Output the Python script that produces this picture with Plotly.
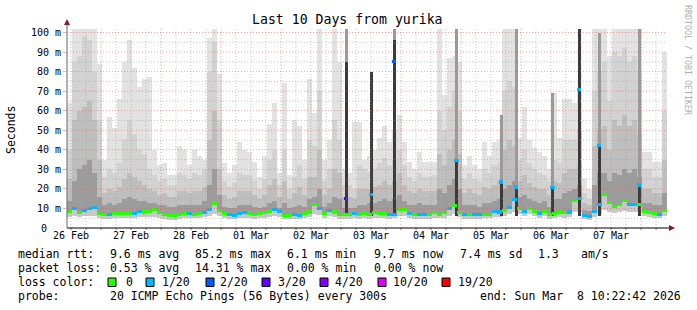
import plotly.graph_objects as go
import pandas as pd

# ---------------- data ----------------
START = pd.Timestamp("2026-02-26 10:22:42")
BIN_H = 2  # hours per bin

med = [8.5, 10, 8, 9, 10, 10.5, 7.5, 6.8, 6.8, 7.2, 7.3, 7.3, 7.3, 7.4, 8.6, 8.2, 8.3, 9.5, 8, 7,
       6.2, 6.2, 6.8, 7.4, 7.6, 7, 7.2, 7.8, 9.3, 12.4, 9, 7.3, 6.8, 6.5, 7.5, 8, 7.7, 6.9, 7.2, 7.8,
       8.5, 9.3, 8.5, 6.5, 6.5, 6.8, 6.5, 7.3, 8.2, 11.9, 10, 7.3, 9, 8.2, 6.8, 6.8, 6.8, 7.3, 6.8, 7.3,
       6.8, 7.8, 7.3, 7.6, 6.8, 7, 9.5, 9.5, 7.3, 6.8, 7, 6.8, 6.8, 7.8, 7, 7.8, 10, 11.5, 7.8, 6.8,
       6.8, 6.8, 7, 7, 7, 8.5, 8.2, 9, 10.5, 14.7, 10, 8.5, 10, 8.5, 7.3, 8.5, 6.8, 7.5, 8.2, 7.8,
       8.2, 14, 15, 6.5, 6.1, 8.5, 12, 17, 13, 11, 12, 14, 12, 12, 12, 8.5, 7.8, 7.3, 7, 9]

loss = [0, 1, 0, 1, 1, 1, 0, 0, 1, 0, 0, 0, 0, 1, 1, 0, 0, 0, 0, 0,
        0, 0, 0, 0, 1, 0, 0, 1, 1, 0, 0, 0, 1, 1, 1, 1, 0, 0, 0, 0,
        0, 1, 1, 0, 0, 1, 1, 0, 0, 0, 1, 0, 1, 0, 0, 0, 0, 1, 0, 0,
        0, 0, 0, 0, 1, 1, 0, 0, 1, 0, 1, 1, 0, 0, 0, 0, 1, 0, 0, 1,
        0, 1, 1, 0, 0, 1, 1, 0, 1, 1, 0, 1, 0, 0, 1, 0, 0, 0, 0, 0,
        1, 0, 1, 1, 1, 1, 1, 0, 0, 0, 0, 0, 1, 1, 0, 0, 0, 0, 1, 0]

ping_min = [5.5, 6, 5.5, 6, 6, 6, 5,
            4.5, 4.5, 5, 5, 5, 5, 5, 5.5, 5.5, 5.5, 5.5, 5, 4.5, 4, 4, 4.5, 5, 5, 5, 5, 5.5,
            6, 7, 6,
            5, 4.5, 4.5, 5, 5, 5, 4.5, 5, 5, 5.5, 6, 5.5, 4.5, 4.5, 4.5, 4.5, 5, 5.5, 7, 6.5,
            5, 6, 5.5, 4.5, 4.5, 4.5, 5, 4.5, 5,
            4.5, 5, 5, 5, 4.5, 5, 6, 6, 5, 4.5, 4.5, 4.5, 4.5, 5, 5, 5, 6, 7, 5.5, 4.5,
            4.5, 4.5, 4.5, 5, 5, 5.5, 5.5, 6, 7, 8,
            7, 6, 7, 6, 5, 6, 4.5, 5, 5.5, 5, 5.5, 8, 8, 4.5, 4, 5.5, 7, 9, 8, 7.5,
            8, 8.5, 8, 8, 8, 6, 5.5, 5, 5, 6]

s1 = [14, 24, 30, 32, 35, 28, 16,
      12, 13, 12, 13, 15, 16, 15, 14, 14, 13, 13, 12, 12, 11, 11, 12, 12, 12, 12, 12, 14,
      22, 30, 17,
      11, 10, 10, 12, 12, 12, 11, 10, 11, 13, 14, 10, 13, 10, 11, 12, 11, 15, 16, 20,
      11, 13, 16, 15, 10, 10, 10, 12, 12,
      13, 13, 14, 15, 14, 15, 17, 14, 12, 12, 13, 12, 12, 12, 20, 18, 22, 25, 20, 12,
      12, 12, 11, 13, 13, 14, 15, 20, 22, 24,
      16, 17, 15, 14, 13, 14, 11, 15, 15, 18, 19, 20, 22, 9, 8.5, 22, 28, 28, 24, 28,
      27, 30, 28, 30, 26, 13, 13, 12, 12, 18]

s2 = [25, 55, 60, 62, 65, 55, 35,
      18, 20, 19, 21, 25, 28, 26, 24, 22, 20, 19, 17, 18, 16, 16, 19, 19, 18, 19, 19, 21,
      45, 60, 30,
      17, 15, 16, 19, 19, 19, 17, 15, 17, 22, 25, 16, 24, 15, 18, 21, 17, 26, 26, 40,
      17, 20, 30, 28, 16, 16, 15, 20, 20,
      20, 21, 22, 24, 22, 24, 28, 22, 19, 18, 20, 19, 19, 19, 38, 32, 40, 45, 38, 18,
      20, 18, 17, 21, 20, 22, 24, 40, 45, 42,
      24, 27, 23, 21, 20, 20, 17, 24, 23, 28, 30, 30, 32, 13, 12, 42, 50, 52, 40, 55,
      52, 58, 52, 55, 48, 20, 20, 18, 18, 35]

s3 = [40, 85, 88, 98, 96, 80, 55,
      26, 30, 28, 33, 45, 55, 48, 40, 38, 30, 27, 24, 25, 22, 22, 28, 27, 25, 28, 27, 30,
      80, 95, 55,
      24, 21, 23, 28, 27, 27, 24, 20, 25, 35, 40, 22, 40, 20, 26, 32, 25, 45, 42, 70,
      24, 30, 55, 45, 22, 22, 20, 32, 30,
      28, 30, 33, 36, 32, 35, 40, 32, 26, 24, 28, 26, 26, 27, 60, 50, 62, 70, 60, 25,
      28, 25, 24, 30, 28, 32, 34, 70, 75, 72,
      35, 40, 33, 30, 28, 27, 24, 35, 33, 45, 45, 45, 50, 18, 15, 70, 80, 85, 65, 90,
      88, 92, 85, 88, 80, 30, 30, 26, 26, 60]

s_max = [64, 102, 102, 102, 102, 102, 84, 35, 57, 51, 66, 85, 96, 82, 72, 76, 77, 40, 32, 33,
         27, 27, 42, 40, 32, 40, 37, 35, 97, 102, 79, 33, 28, 32, 44, 40, 39, 34, 26, 37,
         53, 64, 28, 74, 27, 55, 52, 35, 76, 59, 102, 35, 45, 102, 85, 30, 28, 54, 54, 35,
         37, 40, 46, 52, 44, 50, 58, 44, 34, 30, 39, 34, 34, 34, 102, 68, 87, 88, 85, 32,
         37, 32, 30, 44, 37, 44, 45, 102, 102, 102, 46, 62, 45, 41, 39, 37, 30, 69, 46, 66,
         66, 64, 70, 25, 20, 102, 102, 102, 88, 102, 102, 102, 102, 102, 102, 39, 39, 34, 34, 90]

# narrow high-latency events (hours after start)
spike_h = [111.6, 121.6, 130.8, 155.8, 173.6, 179.6, 194.2, 204.8, 212.8, 228.8]
spike_med = [15, 17, 85, 34.6, 23.5, 21, 20.6, 71, 42, 22]
spike_loss = [3, 1, 2, 1, 1, 1, 1, 1, 1, 1]
spike_dark = [85, 80, 96, 35, 23.5, 21, 20.6, 102, 42, 22]
spike_top = [102, 80, 102, 102, 58, 102, 69, 102, 100, 102]

day_labels = ["26 Feb", "27 Feb", "28 Feb", "01 Mar", "02 Mar",
              "03 Mar", "04 Mar", "05 Mar", "06 Mar", "07 Mar"]
y_tick_vals = [10, 20, 30, 40, 50, 60, 70, 80, 90, 100]
y_tick_text = ["10 m", "20 m", "30 m", "40 m", "50 m",
               "60 m", "70 m", "80 m", "90 m", "100 m"]
y_zero_label = "0"

loss_levels = [0, 1, 2, 3, 4, 10, 19]
loss_labels = ["0", "1/20", "2/20", "3/20", "4/20", "10/20", "19/20"]
loss_palette = ["#26ff00", "#00b8ff", "#0059ff", "#5e00ff", "#7e00ff", "#dd00ff", "#ff0000"]

title_text = "Last 10 Days from yurika"
legend_rtt = ["median rtt:", "9.6 ms avg", "85.2 ms max", "6.1 ms min", "9.7 ms now",
              "7.4 ms sd", "1.3", "am/s"]
legend_loss = ["packet loss:", "0.53 % avg", "14.31 % max", "0.00 % min", "0.00 % now"]
legend_probe = ["probe:", "20 ICMP Echo Pings (56 Bytes) every 300s",
                "end: Sun Mar  8 10:22:42 2026"]

# ---------------- layout geometry ----------------
W, H = 697, 310
ML, MR, MT, MB = 67, 25, 28, 82
PW, PH = W - ML - MR, H - MT - MB
FONT = "DejaVu Sans Mono"


def px(x):
    return (x - ML) / PW


def py(y):
    return (H - MB - y) / PH


def loss_color(v):
    c = loss_palette[0]
    for lv, col in zip(loss_levels, loss_palette):
        if v >= lv:
            c = col
    return c


n = len(med)
xb = [START + pd.Timedelta(hours=BIN_H * (i + 0.5)) for i in range(n)]
bw = BIN_H * 3600 * 1000
xs = [START + pd.Timedelta(hours=h) for h in spike_h]
sw = 1.2 * 3600 * 1000

fig = go.Figure()


def band(x, top, base, color, width):
    fig.add_trace(go.Bar(x=x, y=[t - b for t, b in zip(top, base)], base=base, width=width,
                         marker=dict(color=color, line=dict(width=0)),
                         hoverinfo="skip", showlegend=False))


band(xb, s_max, ping_min, "#e2e2e2", bw)
band(xb, s3, ping_min, "#d2d2d2", bw)
band(xb, s2, ping_min, "#bebebe", bw)
band(xb, s1, ping_min, "#9c9c9c", bw)
band(xb, med, ping_min, "#c8c8c8", bw)

band(xs, spike_top, [6] * len(xs), "#9a9a9a", sw)
band(xs, spike_dark, [6] * len(xs), "#3a3a3a", sw)

fig.add_trace(go.Bar(x=xb, y=[1.6] * n, base=[m - 0.8 for m in med], width=bw,
                     marker=dict(color=[loss_color(v) for v in loss], line=dict(width=0)),
                     hoverinfo="skip", showlegend=False))
fig.add_trace(go.Bar(x=xs, y=[1.6] * len(xs), base=[m - 0.8 for m in spike_med], width=sw * 1.6,
                     marker=dict(color=[loss_color(v) for v in spike_loss], line=dict(width=0)),
                     hoverinfo="skip", showlegend=False))

END = START + pd.Timedelta(hours=BIN_H * n)
YMAX = PH / 1.955

shapes = []
RED = "rgba(255,70,70,0.5)"
GRAY = "rgba(150,150,150,0.5)"
DASH = "1px,2px"
for v in range(5, 101, 5):
    shapes.append(dict(type="line", xref="x", yref="y", x0=START, x1=END, y0=v, y1=v,
                       layer="above", line=dict(color=RED if v % 10 == 0 else GRAY, width=1, dash=DASH)))
t = pd.Timestamp("2026-02-26 12:00:00")
while t < END:
    is_mid = t.hour == 0
    shapes.append(dict(type="line", xref="x", yref="y", x0=t, x1=t, y0=0, y1=YMAX,
                       layer="above", line=dict(color=RED if is_mid else GRAY, width=1, dash=DASH)))
    shapes.append(dict(type="line", xref="x", yref="paper", x0=t, x1=t, y0=0, y1=py(230),
                       layer="above", line=dict(color="#e06060", width=1)))
    t += pd.Timedelta(hours=6)

# axes lines and arrows
shapes.append(dict(type="line", xref="paper", yref="paper", x0=px(67), x1=px(672), y0=py(228), y1=py(228),
                   layer="above", line=dict(color="#000000", width=1)))
shapes.append(dict(type="line", xref="paper", yref="paper", x0=px(67), x1=px(67), y0=py(228), y1=py(22),
                   layer="above", line=dict(color="#666666", width=1)))
shapes.append(dict(type="path", xref="paper", yref="paper", layer="above",
                   path=f"M {px(669)},{py(225)} L {px(675)},{py(228)} L {px(669)},{py(231)} Z",
                   fillcolor="#8b1a1a", line=dict(width=0)))
shapes.append(dict(type="path", xref="paper", yref="paper", layer="above",
                   path=f"M {px(64)},{py(25)} L {px(67)},{py(19)} L {px(70)},{py(25)} Z",
                   fillcolor="#8b1a1a", line=dict(width=0)))

annotations = []


def text(x, y, s, size=11.5, color="#000000", anchor="left", angle=0):
    annotations.append(dict(xref="paper", yref="paper", x=px(x), y=py(y), text=s.replace("  ", "\u00a0 "),
                            showarrow=False, xanchor=anchor, yanchor="middle", textangle=angle,
                            font=dict(family=FONT, size=size, color=color)))


text(347.5, 20, title_text, size=13.2, anchor="center")
text(11, 130, "Seconds", size=11.5, anchor="center", angle=-90)
text(688, 60, "RRDTOOL / TOBI OETIKER", size=8.3, color="#b0b0b0", anchor="center", angle=90)

# zero label of the value axis (placed on the axis scale at y = 0)
annotations.append(dict(xref="paper", yref="y", x=px(49), y=0, text=y_zero_label, showarrow=False,
                        xanchor="right", yanchor="middle", font=dict(family=FONT, size=10, color="#000000")))

for x, s in zip([16, 108, 193, 285, 372, 458, 536, 579], legend_rtt):
    text(x, 254, s)
for x, s in zip([16, 108, 193, 285, 372], legend_loss):
    text(x, 268, s)
text(16, 282, "loss color:")
for bx, lx, lab, col in zip([108, 146, 206, 262, 320, 378, 442],
                            [124, 160, 218, 276, 333, 391, 456], loss_labels, loss_palette):
    shapes.append(dict(type="rect", xref="paper", yref="paper", x0=px(bx), x1=px(bx + 8),
                       y0=py(286.5), y1=py(278), fillcolor=col, line=dict(color="#000000", width=1)))
    text(lx, 282, lab)
for x, s in zip([16, 108, 478], legend_probe):
    text(x, 296, s)

tickvals = [pd.Timestamp("2026-02-26 12:00:00") + pd.Timedelta(days=k) for k in range(len(day_labels))]

fig.update_layout(
    width=W, height=H, margin=dict(l=ML, r=MR, t=MT, b=MB, pad=0),
    paper_bgcolor="#ffffff", plot_bgcolor="#ffffff",
    barmode="overlay", bargap=0, showlegend=False,
    xaxis=dict(type="date", range=[START, START + pd.Timedelta(hours=242)], showgrid=False,
               zeroline=False, showline=False, tickmode="array", tickvals=tickvals,
               ticktext=day_labels, ticks="", tickfont=dict(family=FONT, size=10, color="#000000")),
    yaxis=dict(range=[0, YMAX], showgrid=False, zeroline=False, showline=False,
               tickmode="array", tickvals=y_tick_vals, ticktext=y_tick_text,
               ticks="outside", ticklen=3, tickcolor="#f0b0b0",
               tickfont=dict(family=FONT, size=10, color="#000000")),
    shapes=shapes, annotations=annotations,
)

fig.write_html("out.html")
